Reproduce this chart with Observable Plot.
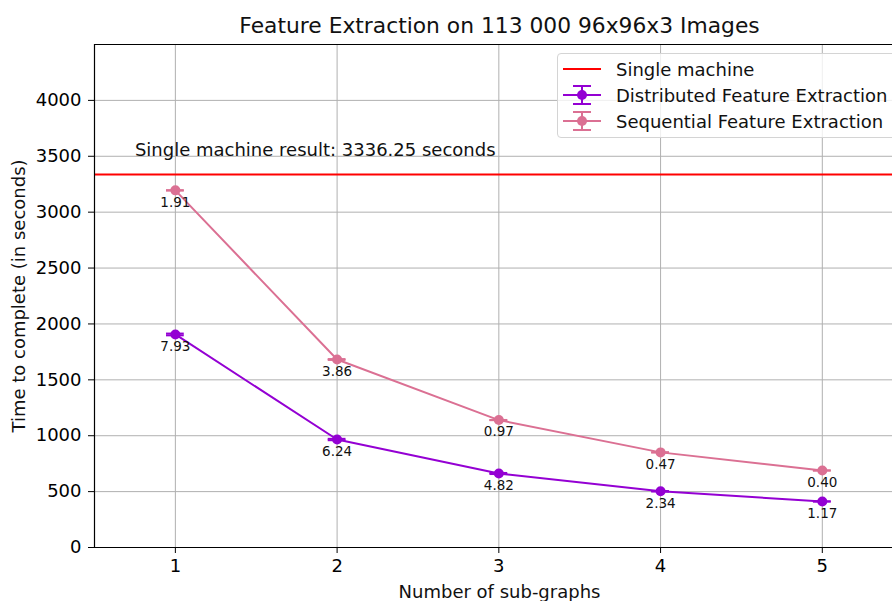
<!DOCTYPE html>
<html>
<head>
<meta charset="utf-8">
<script src="https://cdn.jsdelivr.net/npm/d3@7"></script>
<script src="https://cdn.jsdelivr.net/npm/@observablehq/plot@0.6"></script>
<style>
  html, body { margin: 0; padding: 0; background: white; overflow: hidden; }
  #wrap { position: relative; width: 892px; height: 601px; overflow: hidden; font-family: "DejaVu Sans", sans-serif; }
  #legend { position: absolute; left: 557px; top: 53px; width: 345px; height: 85px; border: 1px solid #d4d4d4; border-radius: 4px; background: rgba(255,255,255,0.8); box-sizing: border-box; }
  .lrow { position: absolute; left: 0; height: 26px; display: flex; align-items: center; font-size: 18px; color: #111; white-space: nowrap; }
  .lrow svg { margin-left: 5px; margin-right: 13px; }
</style>
</head>
<body>
<div id="wrap"></div>
<script>
// ---- data ----
const subgraphs = [1, 2, 3, 4, 5];
const distributed = [1906, 966, 662, 503, 412];
const distributedStd = [7.93, 6.24, 4.82, 2.34, 1.17];
const sequential = [3195, 1682, 1140, 851, 689];
const sequentialStd = [1.91, 3.86, 0.97, 0.47, 0.40];
const singleMachine = 3336.25;
const yTicks = [0, 500, 1000, 1500, 2000, 2500, 3000, 3500, 4000];
const seriesNames = ["Single machine", "Distributed Feature Extraction", "Sequential Feature Extraction"];
const seriesColors = ["#ff0000", "#9400d3", "#db7093"];
const xDomain = [0.5, 5.434];
const yDomain = [0, 4500];
const titleText = "Feature Extraction on 113 000 96x96x3 Images";
const annotText = "Single machine result: " + singleMachine + " seconds";

const rows = [];
subgraphs.forEach((g, i) => {
  rows.push({series: seriesNames[1], g, v: distributed[i], s: distributedStd[i], c: seriesColors[1]});
  rows.push({series: seriesNames[2], g, v: sequential[i], s: sequentialStd[i], c: seriesColors[2]});
});
const capHalf = 0.055;

const font = "DejaVu Sans";
const plot = Plot.plot({
  width: 892,
  height: 601,
  marginLeft: 94,
  marginRight: 0,
  marginTop: 44,
  marginBottom: 54,
  style: {fontFamily: font, fontSize: "18px", background: "white", overflow: "visible"},
  x: {domain: xDomain},
  y: {domain: yDomain},
  marks: [
    Plot.gridX(subgraphs, {stroke: "#b0b0b0", strokeOpacity: 1, strokeWidth: 1}),
    Plot.gridY(yTicks, {stroke: "#b0b0b0", strokeOpacity: 1, strokeWidth: 1}),
    Plot.ruleY([singleMachine], {stroke: seriesColors[0], strokeWidth: 2}),
    Plot.text([annotText], {x: 0.75, y: singleMachine + 200, text: d => d, textAnchor: "start", lineAnchor: "bottom", fontSize: 18, fill: "#111", dy: 4}),
    Plot.line(rows, {x: "g", y: "v", z: "series", stroke: "c", strokeWidth: 2}),
    Plot.ruleX(rows, {x: "g", y1: d => d.v - d.s, y2: d => d.v + d.s, stroke: "c", strokeWidth: 2}),
    Plot.ruleY(rows, {x1: d => d.g - capHalf, x2: d => d.g + capHalf, y: d => d.v - d.s, stroke: "c", strokeWidth: 2}),
    Plot.ruleY(rows, {x1: d => d.g - capHalf, x2: d => d.g + capHalf, y: d => d.v + d.s, stroke: "c", strokeWidth: 2}),
    Plot.dot(rows, {x: "g", y: "v", r: 5, fill: "c", stroke: null}),
    Plot.text(rows, {x: "g", y: "v", text: d => d.s.toFixed(2), dy: 12, fontSize: 13.5, fill: "#111"}),
    Plot.axisY({ticks: yTicks, tickSize: 6, tickPadding: 7, tickFormat: d => String(d), fontSize: 18, label: null}),
    Plot.axisX({ticks: subgraphs, tickSize: 6, tickPadding: 6, tickFormat: d => String(d), fontSize: 18, label: null}),
    Plot.ruleX([xDomain[0]], {stroke: "black", strokeWidth: 1.2}),
    Plot.ruleY([yDomain[0]], {stroke: "black", strokeWidth: 1.2}),
    Plot.ruleY([yDomain[1]], {stroke: "black", strokeWidth: 1.2}),
    Plot.text([titleText], {frameAnchor: "top", text: d => d, dy: -18, dx: 6, fontSize: 21.8, fill: "#111", lineAnchor: "middle"}),
    Plot.text(["Number of sub-graphs"], {frameAnchor: "bottom", text: d => d, dy: 45, dx: 6, fontSize: 18, fill: "#111", lineAnchor: "middle"}),
    Plot.text(["Time to complete (in seconds)"], {frameAnchor: "left", text: d => d, dx: -75, rotate: -90, textAnchor: "middle", fontSize: 18, fill: "#111"})
  ]
});

const wrap = document.getElementById("wrap");
wrap.appendChild(plot);

// legend
const legend = document.createElement("div");
legend.id = "legend";
seriesNames.forEach((name, i) => {
  const row = document.createElement("div");
  row.className = "lrow";
  row.style.top = (2 + i * 26) + "px";
  const c = seriesColors[i];
  let sym = `<svg width="40" height="26" viewBox="0 0 40 26"><line x1="0" x2="38" y1="13" y2="13" stroke="${c}" stroke-width="2"/>`;
  if (i > 0) {
    sym += `<line x1="19" x2="19" y1="4" y2="22" stroke="${c}" stroke-width="2"/>` +
           `<line x1="10" x2="28" y1="4" y2="4" stroke="${c}" stroke-width="2"/>` +
           `<line x1="10" x2="28" y1="22" y2="22" stroke="${c}" stroke-width="2"/>` +
           `<circle cx="19" cy="13" r="5" fill="${c}"/>`;
  }
  sym += `</svg>`;
  row.innerHTML = sym + `<span>${name}</span>`;
  legend.appendChild(row);
});
wrap.appendChild(legend);
</script>
</body>
</html>
